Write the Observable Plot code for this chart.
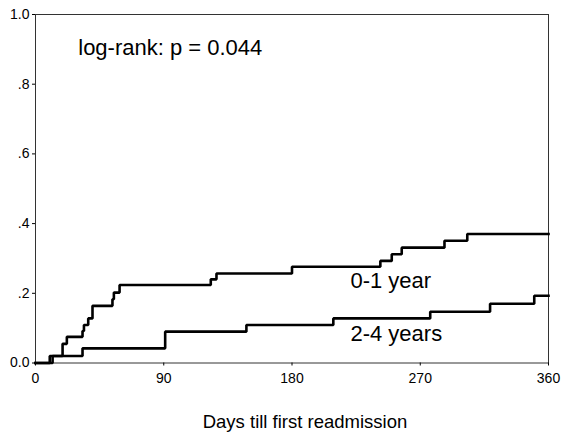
<!DOCTYPE html>
<html>
<head>
<meta charset="utf-8">
<script src="https://cdn.jsdelivr.net/npm/d3@7"></script>
<script src="https://cdn.jsdelivr.net/npm/@observablehq/plot@0.6"></script>
<style>
  html, body { margin: 0; padding: 0; background: #fff; }
</style>
</head>
<body>
<div id="chart"></div>
<script>
// Kaplan-Meier style cumulative readmission curves
const days01 = [0, 10, 19, 22, 33, 34, 37, 40, 54, 55, 59, 123, 127, 180, 242, 250, 257, 287, 303, 360];
const vals01 = [0, 0.02, 0.055, 0.075, 0.092, 0.109, 0.128, 0.164, 0.183, 0.202, 0.224, 0.240, 0.257, 0.276, 0.293, 0.312, 0.331, 0.351, 0.370, 0.370];

const days24 = [0, 12, 33, 91, 148, 209, 277, 319, 350, 360];
const vals24 = [0, 0.02, 0.042, 0.090, 0.109, 0.128, 0.147, 0.170, 0.193, 0.193];

const groupNames = ["0-1 year", "2-4 years"];
const labelDays = [221, 221];
const labelVals = [0.234, 0.082];

const xTicks = [0, 90, 180, 270, 360];
const yTicks = [0, 0.2, 0.4, 0.6, 0.8, 1.0];
const yTickLabels = ["0.0", ".2", ".4", ".6", ".8", "1.0"];

const xTitle = "Days till first readmission";
const annotation = "log-rank: p = 0.044";
const annotationDay = 30;
const annotationVal = 0.903;

const rows = [
  ...days01.map((d, i) => ({group: groupNames[0], day: d, value: vals01[i]})),
  ...days24.map((d, i) => ({group: groupNames[1], day: d, value: vals24[i]}))
];
const labels = groupNames.map((g, i) => ({text: g, day: labelDays[i], value: labelVals[i]}));
const yLabelMap = new Map(yTicks.map((t, i) => [t, yTickLabels[i]]));

const chart = Plot.plot({
  width: 564,
  height: 433,
  marginLeft: 35,
  marginRight: 16,
  marginTop: 14,
  marginBottom: 70.5,
  style: {fontFamily: "'Liberation Sans', Arial, sans-serif", fontSize: "14px", background: "#fff", color: "#000"},
  x: {domain: [0, 360]},
  y: {domain: [0, 1]},
  marks: [
    Plot.frame({stroke: "#333", strokeWidth: 1}),
    Plot.axisX({ticks: xTicks, tickSize: 3, tickPadding: 7, label: null, tickFormat: d => String(d), fontSize: 14}),
    Plot.axisY({ticks: yTicks, tickSize: 3, tickPadding: 3, label: null, tickFormat: d => yLabelMap.get(d), fontSize: 14}),
    Plot.line(rows, {x: "day", y: "value", z: "group", curve: "step-after", stroke: "#000", strokeWidth: 2.6, strokeLinejoin: "miter", strokeLinecap: "square"}),
    Plot.text(labels, {x: "day", y: "value", text: "text", textAnchor: "start", fontSize: 22, fill: "#000"}),
    Plot.text([annotation], {x: () => annotationDay, y: () => annotationVal, textAnchor: "start", fontSize: 22, fill: "#000"}),
    Plot.text([xTitle], {frameAnchor: "bottom", dy: 64.5, dx: 13, fontSize: 18.5, fill: "#000"})
  ]
});
document.getElementById("chart").appendChild(chart);
</script>
</body>
</html>
